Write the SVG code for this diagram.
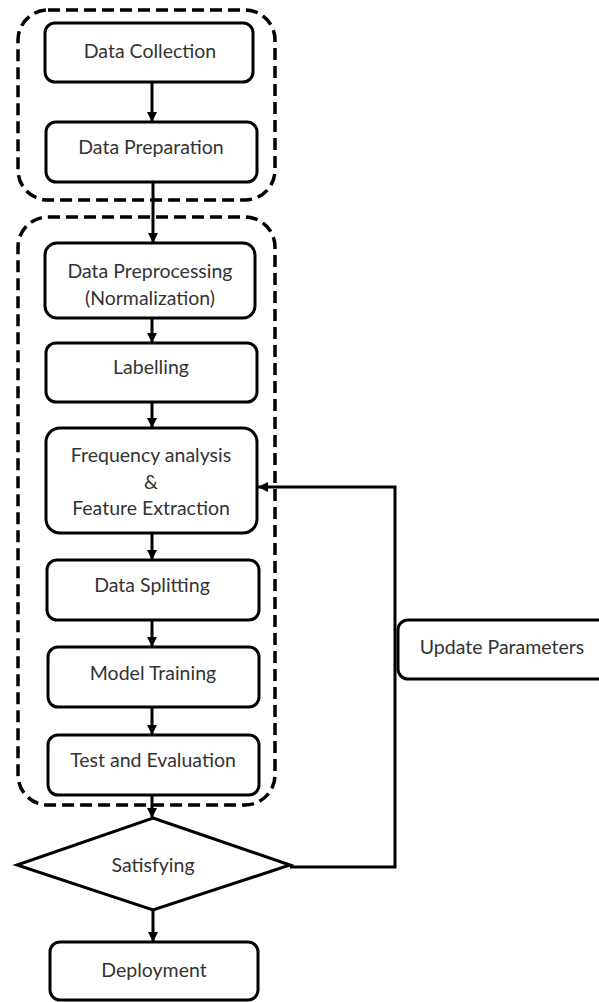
<svg xmlns="http://www.w3.org/2000/svg" width="599" height="1002" viewBox="0 0 599 1002">
<defs>
<marker id="ah" viewBox="0 0 10 10" refX="10" refY="5" markerWidth="10" markerHeight="10" markerUnits="userSpaceOnUse" orient="auto">
<path d="M0,0 L10,5 L0,10 z" fill="#000"/>
</marker>
</defs>
<style>
.box{fill:#fff;stroke:#000;stroke-width:3}
.grp{fill:none;stroke:#000;stroke-width:3.5;stroke-dasharray:12 6}
.t{font-family:Lato,"Open Sans",sans-serif;font-size:19.5px;fill:#333;text-anchor:middle}
.c{fill:none;stroke:#000;stroke-width:3}
</style>
<rect width="599" height="1002" fill="#fff"/>
<g id="group1"><rect class="grp" x="18" y="10" width="257" height="190" rx="30"/></g>
<g id="group2"><rect class="grp" x="18" y="217" width="257" height="588" rx="30"/></g>
<g id="connectors">
<line class="c" x1="152" y1="82" x2="152" y2="122" marker-end="url(#ah)"/>
<line class="c" x1="153" y1="182" x2="153" y2="243" marker-end="url(#ah)"/>
<line class="c" x1="152" y1="318" x2="152" y2="343" marker-end="url(#ah)"/>
<line class="c" x1="152" y1="402" x2="152" y2="428" marker-end="url(#ah)"/>
<line class="c" x1="152" y1="533" x2="152" y2="560" marker-end="url(#ah)"/>
<line class="c" x1="152" y1="620" x2="152" y2="647" marker-end="url(#ah)"/>
<line class="c" x1="152" y1="707" x2="152" y2="735" marker-end="url(#ah)"/>
<line class="c" x1="152" y1="795" x2="152" y2="818" marker-end="url(#ah)"/>
<line class="c" x1="153" y1="910" x2="153" y2="942" marker-end="url(#ah)"/>
<polyline class="c" points="290,867 395,867 395,487 258,487" marker-end="url(#ah)"/>
</g>
<g id="n1"><rect class="box" x="45" y="23" width="208" height="59" rx="10"/><text class="t" x="150" y="58">Data Collection</text></g>
<g id="n2"><rect class="box" x="46" y="122" width="211" height="60" rx="10"/><text class="t" x="151" y="154">Data Preparation</text></g>
<g id="n3"><rect class="box" x="45" y="243" width="210" height="75" rx="12"/><text class="t" x="150" y="278">Data Preprocessing</text><text class="t" x="150" y="305">(Normalization)</text></g>
<g id="n4"><rect class="box" x="46" y="343" width="211" height="59" rx="10"/><text class="t" x="151" y="374">Labelling</text></g>
<g id="n5"><rect class="box" x="46" y="428" width="211" height="105" rx="14"/><text class="t" x="151" y="462">Frequency analysis</text><text class="t" x="151" y="489">&amp;</text><text class="t" x="151" y="515">Feature Extraction</text></g>
<g id="n6"><rect class="box" x="47" y="560" width="212" height="60" rx="10"/><text class="t" x="152" y="592">Data Splitting</text></g>
<g id="n7"><rect class="box" x="48" y="647" width="211" height="60" rx="10"/><text class="t" x="153" y="680">Model Training</text></g>
<g id="n8"><rect class="box" x="48" y="735" width="211" height="60" rx="10"/><text class="t" x="153" y="767">Test and Evaluation</text></g>
<g id="n9"><polygon class="box" points="153,818 290,865 153,910 17,865"/><text class="t" x="153" y="872">Satisfying</text></g>
<g id="n10"><rect class="box" x="50" y="942" width="208" height="58" rx="10"/><text class="t" x="154" y="977">Deployment</text></g>
<g id="n11"><rect class="box" x="398" y="620" width="215" height="59" rx="10"/><text class="t" x="502" y="654">Update Parameters</text></g>
</svg>
